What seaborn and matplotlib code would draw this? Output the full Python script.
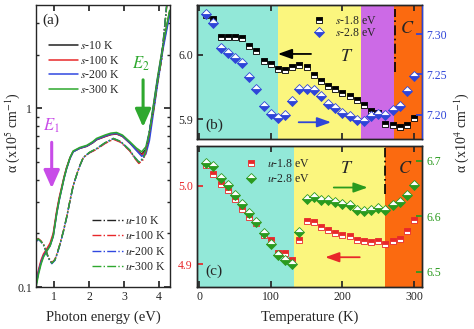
import matplotlib
matplotlib.use("Agg")
import matplotlib.pyplot as plt
import seaborn as sns
from matplotlib.ticker import FixedLocator, NullFormatter, LogLocator

# ---------------- data ----------------
# panel (a): absorption spectra
E_s = [0.48, 0.55, 0.62, 0.69, 0.78, 0.88, 0.97, 1.07, 1.14, 1.21, 1.28, 1.35, 1.45, 1.54,
       1.73, 1.93, 2.10, 2.21, 2.45, 2.62, 2.78, 2.95, 3.16, 3.35, 3.50, 3.62, 3.72, 3.82,
       3.95, 4.11, 4.30]
s_10K = [0.104, 0.122, 0.138, 0.150, 0.160, 0.172, 0.195, 0.262, 0.310, 0.356, 0.410, 0.462,
         0.528, 0.573, 0.598, 0.614, 0.642, 0.668, 0.696, 0.714, 0.720, 0.698, 0.640, 0.588,
         0.555, 0.590, 0.72, 0.98, 1.45, 2.25, 3.50]
s_100K = [0.106, 0.125, 0.141, 0.153, 0.163, 0.176, 0.200, 0.268, 0.316, 0.362, 0.415, 0.466,
          0.530, 0.575, 0.600, 0.616, 0.645, 0.670, 0.698, 0.716, 0.722, 0.700, 0.642, 0.585,
          0.548, 0.575, 0.70, 0.96, 1.42, 2.22, 3.45]
s_200K = [0.103, 0.121, 0.137, 0.149, 0.159, 0.170, 0.192, 0.258, 0.305, 0.352, 0.406, 0.458,
          0.526, 0.572, 0.600, 0.617, 0.646, 0.672, 0.702, 0.720, 0.726, 0.703, 0.643, 0.582,
          0.540, 0.555, 0.66, 0.90, 1.35, 2.15, 3.35]
s_300K = [0.100, 0.118, 0.134, 0.147, 0.158, 0.170, 0.193, 0.259, 0.307, 0.354, 0.408, 0.461,
          0.531, 0.578, 0.605, 0.622, 0.652, 0.680, 0.710, 0.728, 0.734, 0.710, 0.652, 0.600,
          0.572, 0.610, 0.74, 1.00, 1.48, 2.28, 3.55]

E_u = [0.48, 0.54, 0.61, 0.69, 0.76, 0.83, 0.93, 1.02, 1.10, 1.16, 1.26, 1.35, 1.45, 1.54,
       1.64, 1.73, 1.83, 2.00, 2.21, 2.45, 2.69, 2.90, 3.16, 3.30, 3.42, 3.55, 3.64, 3.75,
       3.85, 3.95, 4.07, 4.22]
u_10K = [0.180, 0.186, 0.181, 0.173, 0.160, 0.146, 0.136, 0.142, 0.158, 0.173, 0.205, 0.244,
         0.305, 0.369, 0.425, 0.478, 0.531, 0.565, 0.594, 0.640, 0.677, 0.650, 0.581, 0.530,
         0.497, 0.525, 0.597, 0.80, 1.02, 1.40, 1.90, 3.85]
u_100K = [0.182, 0.187, 0.182, 0.174, 0.161, 0.147, 0.137, 0.143, 0.159, 0.174, 0.206, 0.245,
          0.306, 0.370, 0.426, 0.479, 0.530, 0.563, 0.590, 0.636, 0.672, 0.646, 0.578, 0.526,
          0.492, 0.518, 0.588, 0.79, 1.00, 1.38, 1.88, 3.80]
u_200K = [0.179, 0.185, 0.180, 0.172, 0.159, 0.145, 0.135, 0.141, 0.157, 0.172, 0.204, 0.243,
          0.304, 0.368, 0.424, 0.477, 0.530, 0.566, 0.596, 0.642, 0.680, 0.653, 0.585, 0.534,
          0.502, 0.530, 0.605, 0.81, 1.04, 1.43, 1.93, 3.90]
u_300K = [0.181, 0.186, 0.181, 0.173, 0.160, 0.146, 0.136, 0.142, 0.158, 0.173, 0.205, 0.244,
          0.305, 0.369, 0.425, 0.478, 0.532, 0.567, 0.597, 0.643, 0.680, 0.654, 0.585, 0.533,
          0.500, 0.528, 0.600, 0.80, 1.02, 1.40, 1.90, 3.85]

s_labels = ["$s$-10 K", "$s$-100 K", "$s$-200 K", "$s$-300 K"]
u_labels = ["$u$-10 K", "$u$-100 K", "$u$-200 K", "$u$-300 K"]
curve_colors = ["#222222", "#e8282a", "#3048e0", "#2ea82e"]

# panels (b), (c): temperature dependence
temps = [10, 20, 30, 40, 50, 60, 70, 80, 90, 100, 110, 120, 130, 140, 150,
         160, 170, 180, 190, 200, 210, 220, 230, 240, 250, 260, 270, 280, 290, 300]
s_18 = [6.062, 6.056, 6.027, 6.028, 6.028, 6.025, 6.013, 6.006, 5.990, 5.986, 5.978, 5.976,
        5.981, 5.984, 5.980, 5.969, 5.959, 5.951, 5.946, 5.940, 5.936, 5.929, 5.922, 5.913,
        5.909, 5.892, 5.890, 5.888, 5.891, 5.902]
s_28 = [7.325, 7.314, 7.283, 7.277, 7.270, 7.264, 7.247, 7.232, 7.211, 7.201, 7.196, 7.200,
        7.217, 7.232, 7.232, 7.231, 7.223, 7.213, 7.209, 7.202, 7.198, 7.193, 7.192, 7.199,
        7.201, 7.200, 7.206, 7.211, 7.230, 7.248]
u_18 = [5.027, 5.015, 5.002, 4.995, 4.983, 4.970, 4.961, 4.953, 4.938, 4.931, 4.915, 4.914,
        4.906, 4.931, 4.955, 4.954, 4.948, 4.944, 4.940, 4.938, 4.936, 4.931, 4.930, 4.928,
        4.930, 4.926, 4.930, 4.932, 4.942, 4.957]
u_28 = [6.696, 6.690, 6.669, 6.656, 6.638, 6.623, 6.606, 6.590, 6.569, 6.550, 6.529, 6.520,
        6.513, 6.571, 6.632, 6.635, 6.630, 6.629, 6.626, 6.623, 6.620, 6.611, 6.609, 6.611,
        6.614, 6.612, 6.620, 6.626, 6.638, 6.656]

# phase regions (K)
b_regions = [(-3, 110), (110, 226), (226, 272), (272, 311)]
b_region_colors = ["#92e8d8", "#fbf67e", "#cc6ae6", "#fb6a10"]
c_regions = [(-3, 133), (133, 260), (260, 311)]
c_region_colors = ["#92e8d8", "#fbf67e", "#fb6a10"]

# ---------------- style ----------------
sns.set_theme(style="ticks")
plt.rcParams["font.family"] = ["Liberation Serif", "DejaVu Serif"]
plt.rcParams["mathtext.fontset"] = "stix"
plt.rcParams["xtick.direction"] = "in"
plt.rcParams["ytick.direction"] = "in"
plt.rcParams["axes.linewidth"] = 1.0

TICK_FS = 8.5
LEG_FS = 8.5

fig = plt.figure(figsize=(4.74, 3.29), dpi=100)
W, H = 474.0, 329.0


def px_axes(x0, y0, x1, y1):
    return fig.add_axes([x0 / W, 1 - y1 / H, (x1 - x0) / W, (y1 - y0) / H])


axa = px_axes(36, 5, 170, 287)
axb = px_axes(197, 5, 422, 139)
axc = px_axes(197, 146, 422, 287)

# ---------------- panel (a) ----------------
for ys, lab, col in zip([s_10K, s_100K, s_200K, s_300K], s_labels, curve_colors):
    sns.lineplot(x=E_s, y=ys, ax=axa, color=col, lw=1.1, linestyle="-", label=lab,
                 errorbar=None, sort=False)
for ys, lab, col in zip([u_10K, u_100K, u_200K, u_300K], u_labels, curve_colors):
    sns.lineplot(x=E_u, y=ys, ax=axa, color=col, lw=1.0, linestyle="-.", label=lab,
                 errorbar=None, sort=False)

axa.set_yscale("log")
axa.set_xlim(0.477, 4.31)
axa.set_ylim(0.1, 3.8)
axa.xaxis.set_major_locator(FixedLocator([1, 2, 3, 4]))
axa.yaxis.set_major_locator(FixedLocator([0.1, 1]))
axa.yaxis.set_major_formatter(matplotlib.ticker.FixedFormatter(["0.1", "1"]))
axa.yaxis.set_minor_locator(LogLocator(base=10, subs=range(2, 10)))
axa.yaxis.set_minor_formatter(NullFormatter())
axa.tick_params(which="both", top=True, right=True, labelsize=TICK_FS, pad=3)
axa.tick_params(which="major", length=4)
axa.tick_params(which="minor", length=2.5)
axa.set_xlabel("")
axa.set_ylabel("")

lines = axa.get_lines()
leg1 = axa.legend(handles=lines[:4], labels=s_labels, loc="upper left",
                  bbox_to_anchor=(0.10, 0.875), frameon=False, fontsize=LEG_FS,
                  handlelength=2.4, handletextpad=0.2, labelspacing=0.22,
                  borderpad=0, borderaxespad=0)
axa.add_artist(leg1)
axa.legend(handles=lines[4:8], labels=u_labels, loc="upper left",
           bbox_to_anchor=(0.42, 0.255), frameon=False, fontsize=LEG_FS,
           handlelength=2.6, handletextpad=0.2, labelspacing=0.28,
           borderpad=0, borderaxespad=0)

axa.annotate("", xy=(0.926, 0.345), xytext=(0.926, 0.67),
             arrowprops=dict(arrowstyle="-|>,head_width=0.4,head_length=0.9",
                             color="#c84ce8", lw=2.2))
axa.text(0.93, 0.80, "$E_1$", color="#c84ce8", fontsize=12, ha="center", va="center")
axa.annotate("", xy=(3.54, 0.76), xytext=(3.54, 1.5),
             arrowprops=dict(arrowstyle="-|>,head_width=0.4,head_length=0.9",
                             color="#2ea82e", lw=2.2))
axa.text(3.49, 1.78, "$E_2$", color="#2ea82e", fontsize=12, ha="center", va="center")
axa.text(0.05, 0.945, "(a)", transform=axa.transAxes, fontsize=11, va="center")

# ---------------- panel (b) ----------------
for (a0, a1), col in zip(b_regions, b_region_colors):
    axb.axvspan(a0, a1, color=col, lw=0, zorder=0)
axb.axvline(273, ymin=0.50, ymax=0.97, color="black", lw=1.2, linestyle=(0, (6, 2, 1, 2)))

sns.lineplot(x=temps, y=s_18, ax=axb, marker="s", linestyle="", color="black",
             markersize=5, markeredgecolor="black", markeredgewidth=0.6,
             fillstyle="top", markerfacecoloralt="white", errorbar=None, zorder=3)
axb.set_xlim(-3, 311)
axb.set_ylim(5.869, 6.077)
axb.xaxis.set_major_locator(FixedLocator([0, 100, 200, 300]))
axb.yaxis.set_major_locator(FixedLocator([5.9, 6.0]))
axb.set_xticklabels([])
axb.tick_params(top=True, labelsize=TICK_FS, length=4, pad=3)
axb.set_xlabel("")
axb.set_ylabel("")

axb2 = axb.twinx()
sns.lineplot(x=temps, y=s_28, ax=axb2, marker="D", linestyle="", color="#2f45d8",
             markersize=5.5, markeredgecolor="#2f45d8", markeredgewidth=0.6,
             fillstyle="bottom", markerfacecoloralt="white", errorbar=None, zorder=3)
axb2.set_ylim(7.170, 7.336)
axb2.yaxis.set_major_locator(FixedLocator([7.20, 7.25, 7.30]))
axb2.set_yticklabels(["7.20", "7.25", "7.30"])
axb2.tick_params(axis="y", direction="in", colors="#2f45d8", labelsize=TICK_FS, length=4, pad=3)
axb2.spines["right"].set_color("#2f45d8")
axb2.set_ylabel("")

hb = [axb.get_lines()[-1], axb2.get_lines()[-1]]
axb.legend(handles=hb, labels=["$s$-1.8 eV", "$s$-2.8 eV"], loc="upper left",
           bbox_to_anchor=(0.515, 0.925), frameon=False, fontsize=LEG_FS,
           handlelength=1.0, handletextpad=0.9, labelspacing=0.0,
           borderpad=0, borderaxespad=0)

axb.text(206, 5.997, "$T$", fontsize=13, ha="center", va="center")
axb.text(290, 6.041, "$C$", fontsize=13, ha="center", va="center")
axb.annotate("", xy=(106, 6.001), xytext=(160, 6.001),
             arrowprops=dict(arrowstyle="-|>,head_width=0.25,head_length=0.7",
                             color="black", lw=1.3))
axb.annotate("", xy=(188, 5.895), xytext=(135, 5.895),
             arrowprops=dict(arrowstyle="-|>,head_width=0.25,head_length=0.7",
                             color="#2f45d8", lw=1.3))
axb.text(0.035, 0.105, "(b)", transform=axb.transAxes, fontsize=11, va="center")

# ---------------- panel (c) ----------------
for (a0, a1), col in zip(c_regions, c_region_colors):
    axc.axvspan(a0, a1, color=col, lw=0, zorder=0)
axc.axvline(260, ymin=0.66, ymax=0.985, color="black", lw=1.2, linestyle=(0, (6, 2, 1, 2)))

sns.lineplot(x=temps, y=u_18, ax=axc, marker="s", linestyle="", color="#e8282a",
             markersize=5, markeredgecolor="#e8282a", markeredgewidth=0.6,
             fillstyle="top", markerfacecoloralt="white", errorbar=None, zorder=3)
axc.set_xlim(-3, 311)
axc.set_ylim(4.871, 5.051)
axc.xaxis.set_major_locator(FixedLocator([0, 100, 200, 300]))
axc.yaxis.set_major_locator(FixedLocator([4.9, 5.0]))
axc.tick_params(top=True, labelsize=TICK_FS, length=4, pad=3)
axc.tick_params(axis="y", colors="#e8282a")
axc.set_xlabel("")
axc.set_ylabel("")

axc2 = axc.twinx()
sns.lineplot(x=temps, y=u_28, ax=axc2, marker="D", linestyle="", color="#2a9a1e",
             markersize=5.5, markeredgecolor="#2a9a1e", markeredgewidth=0.6,
             fillstyle="bottom", markerfacecoloralt="white", errorbar=None, zorder=3)
axc2.set_ylim(6.472, 6.727)
axc2.yaxis.set_major_locator(FixedLocator([6.5, 6.6, 6.7]))
axc2.tick_params(axis="y", direction="in", colors="#2a9a1e", labelsize=TICK_FS, length=4, pad=3)
axc2.set_ylabel("")

hc = [axc.get_lines()[-1], axc2.get_lines()[-1]]
axc.legend(handles=hc, labels=["$u$-1.8 eV", "$u$-2.8 eV"], loc="upper left",
           bbox_to_anchor=(0.213, 0.915), frameon=False, fontsize=LEG_FS,
           handlelength=1.0, handletextpad=0.9, labelspacing=0.27,
           borderpad=0, borderaxespad=0)

axc.text(206, 5.022, "$T$", fontsize=13, ha="center", va="center")
axc.text(287, 5.022, "$C$", fontsize=13, ha="center", va="center")
axc.annotate("", xy=(239, 4.998), xytext=(184, 4.998),
             arrowprops=dict(arrowstyle="-|>,head_width=0.25,head_length=0.7",
                             color="#2a9a1e", lw=1.3))
axc.annotate("", xy=(172, 4.909), xytext=(228, 4.909),
             arrowprops=dict(arrowstyle="-|>,head_width=0.25,head_length=0.7",
                             color="#e8282a", lw=1.3))
axc.text(0.035, 0.11, "(c)", transform=axc.transAxes, fontsize=11, va="center")

# ---------------- axis labels ----------------
fig.text(103 / W, 1 - 317 / H, "Photon energy (eV)", ha="center", va="center", fontsize=10.5)
fig.text(310 / W, 1 - 317 / H, "Temperature (K)", ha="center", va="center", fontsize=10.5)
fig.text(13 / W, 1 - 133 / H, "α (x10$^{5}$ cm$^{-1}$)", rotation=90,
         ha="center", va="center", fontsize=10)
fig.text(462 / W, 1 - 133 / H, "α (x10$^{4}$ cm$^{-1}$)", rotation=90,
         ha="center", va="center", fontsize=10)

fig.savefig("out.png", dpi=100)
